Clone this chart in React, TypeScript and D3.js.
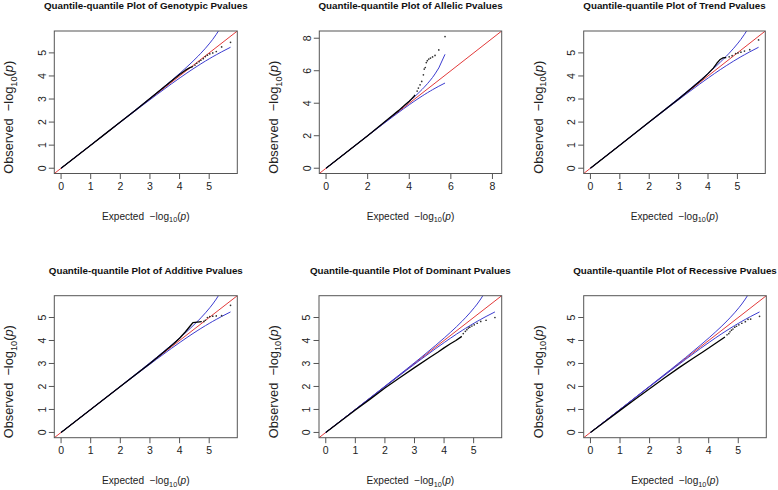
import React from "react";
import * as d3 from "d3";

const W = 778;
const H = 490;

// Panel names (titles) and axis maxima (data range before R's 4% padding)
const panelNames = ["Genotypic", "Allelic", "Trend", "Additive", "Dominant", "Recessive"];
const panelMax = [5.72, 8.12, 5.72, 5.72, 5.72, 5.72];
const ticksSmall = [0, 1, 2, 3, 4, 5];
const ticksLarge = [0, 2, 4, 6, 8];

// 90% confidence band
const bandExpected = [0, 1, 2, 2.72, 3.22, 3.72, 4.02, 4.22, 4.42, 4.62, 4.72, 4.875, 5.02, 5.12, 5.24, 5.42, 5.72];
const bandUpper = [0, 1.003, 2.01, 2.743, 3.26, 3.795, 4.128, 4.359, 4.599, 4.852, 4.986, 5.203, 5.424, 5.587, 5.805, 6.17, 7.01];
const bandLower = [0, 0.997, 1.99, 2.697, 3.18, 3.652, 3.925, 4.103, 4.276, 4.443, 4.524, 4.647, 4.757, 4.833, 4.918, 5.045, 5.243];

// Observed vs expected -log10(p): dense body (drawn as a line of points) and sparse tail
const genotypicBody = [[0, 0], [0.5, 0.5], [1, 1], [1.5, 1.5], [2, 2], [2.5, 2.5], [3, 3.02], [3.5, 3.54], [3.8, 3.86], [4.0, 4.06], [4.2, 4.25], [4.35, 4.36], [4.46, 4.41]];
const genotypicTail = [[4.52, 4.47], [4.58, 4.55], [4.66, 4.62], [4.72, 4.68], [4.8, 4.75], [4.87, 4.84], [4.94, 4.9], [5.02, 4.96], [5.12, 5.0], [5.24, 5.06], [5.42, 5.26], [5.72, 5.46]];

const allelicBody = [[0, 0], [1, 1], [2, 2], [3, 3.04], [3.5, 3.56], [3.8, 3.9], [4.0, 4.12], [4.1, 4.25], [4.2, 4.38], [4.28, 4.52]];
const allelicTail = [[4.38, 4.75], [4.44, 4.93], [4.52, 5.13], [4.6, 5.34], [4.68, 5.75], [4.72, 6.1], [4.77, 6.2], [4.82, 6.5], [4.87, 6.62], [4.94, 6.72], [5.02, 6.78], [5.12, 6.85], [5.24, 6.94], [5.42, 7.28], [5.72, 8.1]];

const trendBody = [[0, 0], [1, 1], [2, 2], [3, 3], [3.5, 3.53], [3.8, 3.86], [4.0, 4.1], [4.18, 4.34], [4.3, 4.55], [4.4, 4.7], [4.5, 4.78], [4.62, 4.8]];
const trendTail = [[4.72, 4.83], [4.82, 4.88], [4.94, 4.97], [5.02, 5.0], [5.12, 5.03], [5.24, 5.08], [5.42, 5.14], [5.72, 5.56]];

const additiveBody = [[0, 0], [1, 1], [2, 2], [3, 3], [3.5, 3.53], [3.8, 3.86], [4.0, 4.1], [4.2, 4.38], [4.35, 4.62], [4.45, 4.78], [4.6, 4.8], [4.75, 4.82]];
const additiveTail = [[4.82, 4.83], [4.87, 4.88], [4.94, 5.0], [5.02, 5.04], [5.12, 5.06], [5.24, 5.07], [5.42, 5.08], [5.72, 5.53]];

const dominantBody = [[0, 0], [0.5, 0.49], [1, 0.98], [1.5, 1.45], [2, 1.93], [2.5, 2.38], [3, 2.82], [3.5, 3.25], [3.8, 3.5], [4.0, 3.68], [4.2, 3.85], [4.4, 4.0], [4.6, 4.18]];
const dominantTail = [[4.65, 4.3], [4.72, 4.4], [4.77, 4.47], [4.82, 4.54], [4.87, 4.58], [4.94, 4.63], [5.02, 4.68], [5.12, 4.75], [5.24, 4.83], [5.42, 4.88], [5.72, 5.0]];

const recessiveBody = [[0, 0], [0.5, 0.48], [1, 0.96], [1.5, 1.43], [2, 1.9], [2.5, 2.37], [3, 2.82], [3.5, 3.25], [3.8, 3.5], [4.0, 3.67], [4.2, 3.85], [4.4, 4.02], [4.55, 4.15]];
const recessiveTail = [[4.62, 4.25], [4.68, 4.3], [4.72, 4.38], [4.77, 4.45], [4.82, 4.5], [4.88, 4.58], [4.94, 4.62], [5.02, 4.68], [5.12, 4.75], [5.24, 4.82], [5.33, 4.92], [5.42, 4.93], [5.72, 5.05]];

const bodies = [genotypicBody, allelicBody, trendBody, additiveBody, dominantBody, recessiveBody];
const tails = [genotypicTail, allelicTail, trendTail, additiveTail, dominantTail, recessiveTail];

// Layout: plot boxes [left, right, top, bottom]
const boxes = [
  [54.3, 237.3, 31, 173.5],
  [319.3, 501.7, 31, 173.5],
  [583.7, 765.3, 31, 173.5],
  [54.3, 237.3, 295.7, 437.7],
  [319.0, 501.7, 295.7, 437.7],
  [583.7, 766.3, 295.7, 437.7],
];

const FONT = "'Liberation Sans', Arial, Helvetica, sans-serif";
const RED = "#e23a3a";
const BLUE = "#3c3cd0";

function Panel({ i }: { i: number }) {
  const [x0, x1, y0, y1] = boxes[i];
  const max = panelMax[i];
  const pad = max * 0.04;
  const x = d3.scaleLinear().domain([-pad, max + pad]).range([x0, x1]);
  const y = d3.scaleLinear().domain([-pad, max + pad]).range([y1, y0]);
  const line = d3
    .line<number[]>()
    .x((d) => x(d[0]))
    .y((d) => y(d[1]));
  const ticks = max > 7 ? ticksLarge : ticksSmall;
  const upper = bandExpected.map((e, k) => [e, bandUpper[k]]);
  const lower = bandExpected.map((e, k) => [e, bandLower[k]]);
  const cx = (x0 + x1) / 2;
  const cy = (y0 + y1) / 2;
  const clipId = `clip${i}`;
  return (
    <g>
      <defs>
        <clipPath id={clipId}>
          <rect x={x0} y={y0} width={x1 - x0} height={y1 - y0} />
        </clipPath>
      </defs>
      <text
        x={cx}
        y={y0 - 22}
        textAnchor="middle"
        fontFamily={FONT}
        fontWeight="bold"
        fontSize={9.8}
        fill="#111"
      >
        {`Quantile-quantile Plot of ${panelNames[i]} Pvalues`}
      </text>
      <g clipPath={`url(#${clipId})`}>
        <path d={line([[-pad, -pad], [max + pad, max + pad]]) || ""} fill="none" stroke={RED} strokeWidth={1} />
        <path d={line(upper) || ""} fill="none" stroke={BLUE} strokeWidth={1} />
        <path d={line(lower) || ""} fill="none" stroke={BLUE} strokeWidth={1} />
        <path d={line(bodies[i]) || ""} fill="none" stroke="#000" strokeWidth={1.3} strokeLinejoin="round" />
        {tails[i].map((d, k) => (
          <circle key={k} cx={x(d[0])} cy={y(d[1])} r={0.85} fill="#333" />
        ))}
      </g>
      <rect x={x0} y={y0} width={x1 - x0} height={y1 - y0} fill="none" stroke="#555" strokeWidth={1} />
      {ticks.map((t) => (
        <g key={`x${t}`}>
          <line x1={x(t)} x2={x(t)} y1={y1} y2={y1 + 5.5} stroke="#555" strokeWidth={1} />
          <text x={x(t)} y={y1 + 16} textAnchor="middle" fontFamily={FONT} fontSize={10.5} fill="#222">
            {t}
          </text>
        </g>
      ))}
      {ticks.map((t) => (
        <g key={`y${t}`}>
          <line x1={x0} x2={x0 - 5.5} y1={y(t)} y2={y(t)} stroke="#555" strokeWidth={1} />
          <text
            transform={`translate(${x0 - 8.6},${y(t)}) rotate(-90)`}
            textAnchor="middle"
            fontFamily={FONT}
            fontSize={10.5}
            fill="#222"
          >
            {t}
          </text>
        </g>
      ))}
      <text x={cx} y={y1 + 46.5} textAnchor="middle" fontFamily={FONT} fontSize={10.1} fill="#222">
        {"Expected\u00a0\u00a0\u2212log"}
        <tspan fontSize={7.3} dy={2.3}>10</tspan>
        <tspan dy={-2.3}>(</tspan>
        <tspan fontStyle="italic">p</tspan>
        <tspan>)</tspan>
      </text>
      <text
        transform={`translate(${x0 - 41},${cy + 15}) rotate(-90)`}
        textAnchor="middle"
        fontFamily={FONT}
        fontSize={12.8}
        fill="#222"
      >
        {"Observed\u00a0\u00a0\u2212log"}
        <tspan fontSize={9.2} dy={3.2}>10</tspan>
        <tspan dy={-3.2}>(</tspan>
        <tspan fontStyle="italic">p</tspan>
        <tspan>)</tspan>
      </text>
    </g>
  );
}

export default function App() {
  return (
    <svg
      width={W}
      height={H}
      viewBox={`0 0 ${W} ${H}`}
      style={{ position: "absolute", left: 0, top: 0, display: "block", background: "#fff" }}
    >
      <rect x={0} y={0} width={W} height={H} fill="#fff" />
      {panelNames.map((_, i) => (
        <Panel key={i} i={i} />
      ))}
    </svg>
  );
}
